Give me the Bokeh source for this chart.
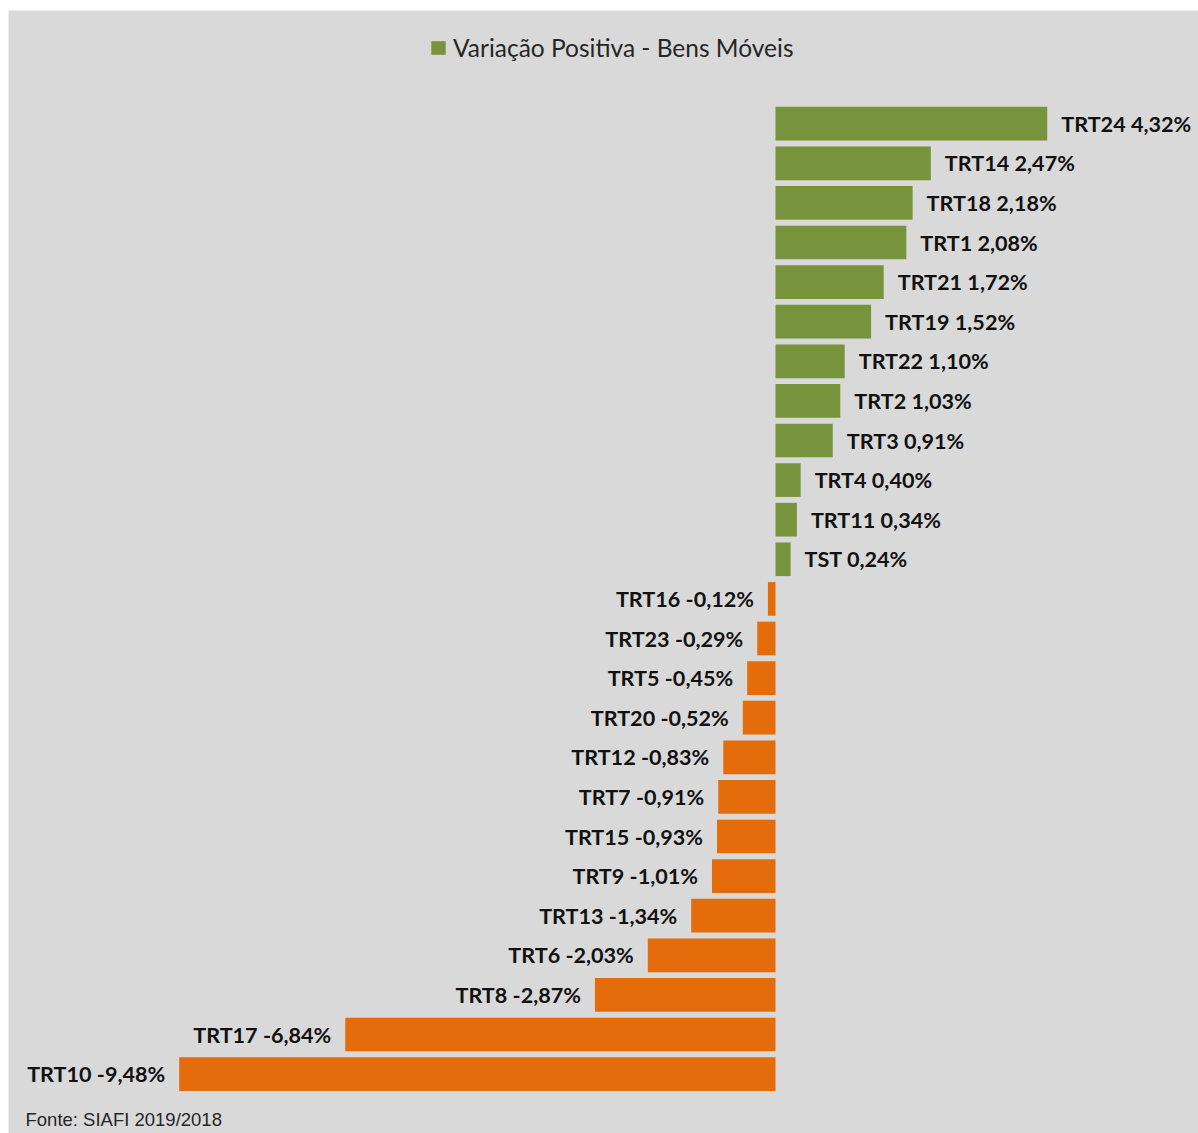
from bokeh.plotting import figure
from bokeh.models import ColumnDataSource, Range1d, Legend, LegendItem, Label
from bokeh.core.properties import value
from bokeh.embed import file_html
from bokeh.resources import INLINE

names = ["TRT24", "TRT14", "TRT18", "TRT1", "TRT21", "TRT19", "TRT22", "TRT2", "TRT3",
         "TRT4", "TRT11", "TST", "TRT16", "TRT23", "TRT5", "TRT20", "TRT12", "TRT7",
         "TRT15", "TRT9", "TRT13", "TRT6", "TRT8", "TRT17", "TRT10"]
values = [4.32, 2.47, 2.18, 2.08, 1.72, 1.52, 1.10, 1.03, 0.91,
          0.40, 0.34, 0.24, -0.12, -0.29, -0.45, -0.52, -0.83, -0.91,
          -0.93, -1.01, -1.34, -2.03, -2.87, -6.84, -9.48]
legend_label = "Variação Positiva - Bens Móveis"
source_note = "Fonte: SIAFI 2019/2018"

GREEN = "#77933c"
ORANGE = "#e46c0a"

def fmt(v):
    return ("%.2f" % v).replace(".", ",") + "%"

pos = {"y": [], "v": [], "lab": []}
neg = {"y": [], "v": [], "lab": []}
for i, (n, v) in enumerate(zip(names, values)):
    d = pos if v >= 0 else neg
    d["y"].append(i)
    d["v"].append(v)
    d["lab"].append(n + " " + fmt(v))

spos = ColumnDataSource(pos)
sneg = ColumnDataSource(neg)

scale = 62.9
x0 = 775 - 8
p = figure(width=1198, height=1133, output_backend="svg", toolbar_location=None,
           x_range=Range1d(-x0 / scale, (1198 - 775) / scale),
           y_range=Range1d((1133 - 123.2) / 39.6, (10 - 123.2) / 39.6),
           min_border_left=8, min_border_top=10, min_border_right=0, min_border_bottom=0,
           border_fill_color="white", background_fill_color="#d9d9d9",
           outline_line_color=None)
p.axis.visible = False
p.grid.visible = False

rp = p.hbar(y="y", left=0, right="v", height=0.85, source=spos,
            fill_color=GREEN, line_color=None)
rn = p.hbar(y="y", left=0, right="v", height=0.85, source=sneg,
            fill_color=ORANGE, line_color=None)

FONT = "Lato"
p.text(x="v", y="y", text="lab", source=spos, x_offset=14,
       text_align="left", text_baseline="middle", text_font=value(FONT),
       text_font_style="bold", text_font_size="21.6px", text_color="#111111")
p.text(x="v", y="y", text="lab", source=sneg, x_offset=-14,
       text_align="right", text_baseline="middle", text_font=value(FONT),
       text_font_style="bold", text_font_size="21.6px", text_color="#111111")

legend = Legend(items=[LegendItem(label=legend_label, renderers=[rp])],
                location=(421, 1123 - 52), orientation="horizontal",
                background_fill_alpha=0, border_line_color=None,
                padding=0, margin=0, glyph_width=18, glyph_height=17,
                label_standoff=6, label_text_font=FONT, label_text_font_size="24.5px",
                label_text_color="#262626", label_height=20)
p.add_layout(legend, "center")

p.add_layout(Label(x=17, y=14, x_units="screen", y_units="screen", text=source_note,
                   text_font="Liberation Sans", text_font_size="18.5px",
                   text_color="#262626", text_baseline="alphabetic"))

open("out.html", "w").write(file_html(p, INLINE))
